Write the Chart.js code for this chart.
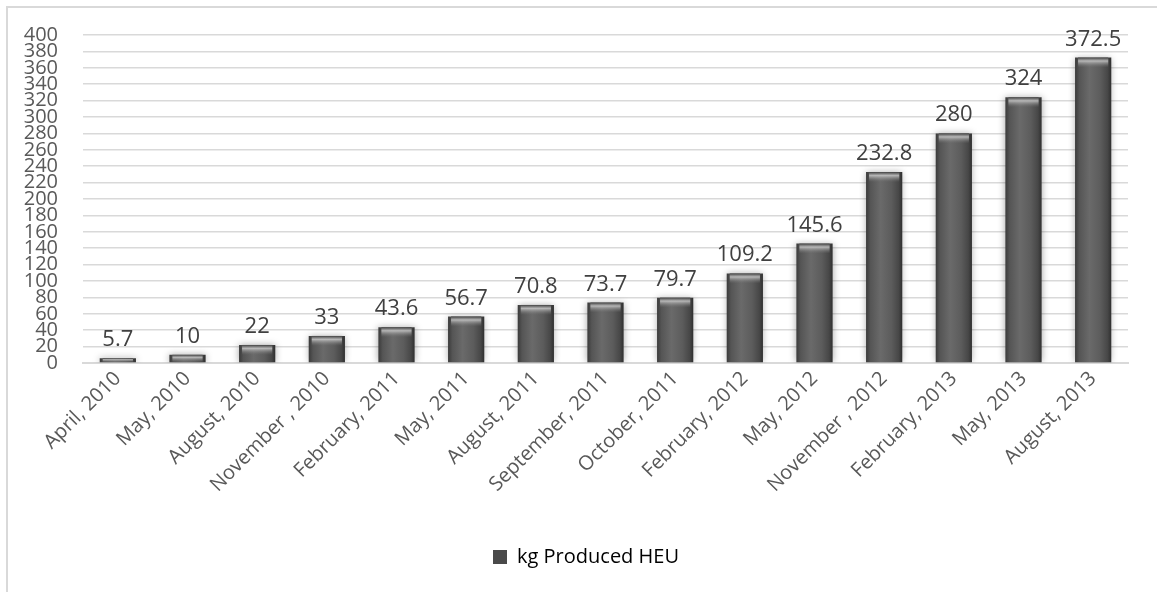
<!DOCTYPE html>
<html>
<head>
<meta charset="utf-8">
<script src="https://cdn.jsdelivr.net/npm/chart.js@4"></script>
<style>
  body { margin: 0; background: #fff; }
  #wrap { position: relative; width: 1157px; height: 592px; overflow: hidden; }
  #frame { position: absolute; left: 6px; top: 6px; width: 1300px; height: 700px;
           border-left: 2px solid #d9d9d9; border-top: 2px solid #d9d9d9; }
  canvas { position: absolute; left: 0; top: 0; }
</style>
</head>
<body>
<div id="wrap">
  <div id="frame"></div>
  <canvas id="heuChart" width="1157" height="592"></canvas>
</div>
<script>
const months = [
  "April, 2010", "May, 2010", "August, 2010", "November , 2010", "February, 2011",
  "May, 2011", "August, 2011", "September, 2011", "October, 2011", "February, 2012",
  "May, 2012", "November , 2012", "February, 2013", "May, 2013", "August, 2013"
];
const kgProduced = [5.7, 10, 22, 33, 43.6, 56.7, 70.8, 73.7, 79.7, 109.2, 145.6, 232.8, 280, 324, 372.5];
const seriesName = "kg Produced HEU";
const yMax = 400;
const yStep = 20;

const FONT = "'Open Sans', 'Liberation Sans', sans-serif";
const BAR_PCT = 0.52;

// horizontal shading for each cylinder-ish bar
const barFill = (ctx) => {
  const chart = ctx.chart;
  const xs = chart.scales.x;
  if (!xs || ctx.dataIndex === undefined || !chart.chartArea) return "#555";
  const cx = xs.getPixelForValue(ctx.dataIndex);
  const half = (xs.width / months.length) * BAR_PCT / 2;
  const g = chart.ctx.createLinearGradient(cx - half, 0, cx + half, 0);
  g.addColorStop(0, "#3a3a3a");
  g.addColorStop(0.12, "#555");
  g.addColorStop(0.4, "#6a6a6a");
  g.addColorStop(0.7, "#5c5c5c");
  g.addColorStop(0.9, "#474747");
  g.addColorStop(1, "#2f2f2f");
  return g;
};

const barEffects = {
  id: "barEffects",
  afterLayout(chart) {
    // legend sits a little right of the canvas centre
    chart.legend.left += 22;
    chart.legend.right += 22;
  },
  beforeDatasetDraw(chart) {
    const c = chart.ctx;
    c.save();
    c.shadowColor = "rgba(0,0,0,0.35)";
    c.shadowBlur = 7;
  },
  afterDatasetDraw(chart) {
    chart.ctx.restore();
  },
  afterDatasetsDraw(chart) {
    const c = chart.ctx;
    const meta = chart.getDatasetMeta(0);
    meta.data.forEach((bar, i) => {
      const left = bar.x - bar.width / 2;
      const top = bar.y;
      const h = Math.min(10, bar.base - bar.y);
      // light cap at the top of the bar
      const g = c.createLinearGradient(0, top, 0, top + h);
      g.addColorStop(0, "rgba(60,60,60,0.9)");
      g.addColorStop(0.35, "rgba(205,205,205,0.8)");
      g.addColorStop(1, "rgba(120,120,120,0)");
      c.save();
      c.fillStyle = g;
      c.fillRect(left + 3, top, bar.width - 6, h);
      c.restore();

      // value above the bar
      c.save();
      c.font = "22px " + FONT;
      c.fillStyle = "#404040";
      c.textAlign = "center";
      c.textBaseline = "alphabetic";
      c.fillText(String(kgProduced[i]), bar.x, top - 12);
      c.restore();
    });
  }
};

new Chart(document.getElementById("heuChart"), {
  type: "bar",
  data: {
    labels: months,
    datasets: [
      {
        label: seriesName,
        data: kgProduced,
        backgroundColor: barFill,
        borderWidth: 0,
        barPercentage: BAR_PCT,
        categoryPercentage: 1,
      },
    ],
  },
  options: {
    responsive: false,
    animation: false,
    devicePixelRatio: 1,
    layout: {
      padding: { top: 29, right: 29, bottom: 15, left: 0 },
    },
    plugins: {
      tooltip: { enabled: false },
      legend: {
        position: "bottom",
        labels: {
          font: { family: FONT, size: 20 },
          color: "#595959",
          boxWidth: 14,
          boxHeight: 14,
          padding: 10,
          generateLabels: () => [
            { text: seriesName, fillStyle: "#4a4a4a", strokeStyle: "#4a4a4a", lineWidth: 0, datasetIndex: 0 },
          ],
        },
      },
    },
    scales: {
      x: {
        grid: { display: false, drawTicks: false },
        border: { color: "#d9d9d9", width: 2 },
        ticks: {
          font: { family: FONT, size: 20 },
          color: "#595959",
          maxRotation: 45,
          minRotation: 45,
          padding: 4,
          autoSkip: false,
        },
        afterFit: (scale) => { scale.height = 174; },
      },
      y: {
        min: 0,
        max: yMax,
        grid: { color: "#d9d9d9", lineWidth: 1.5, drawTicks: false },
        border: { display: false },
        ticks: {
          stepSize: yStep,
          autoSkip: false,
          font: { family: FONT, size: 20, lineHeight: 1 },
          color: "#595959",
          padding: 25,
        },
        afterFit: (scale) => { scale.width = 83; },
      },
    },
  },
  plugins: [barEffects],
});
</script>
</body>
</html>
